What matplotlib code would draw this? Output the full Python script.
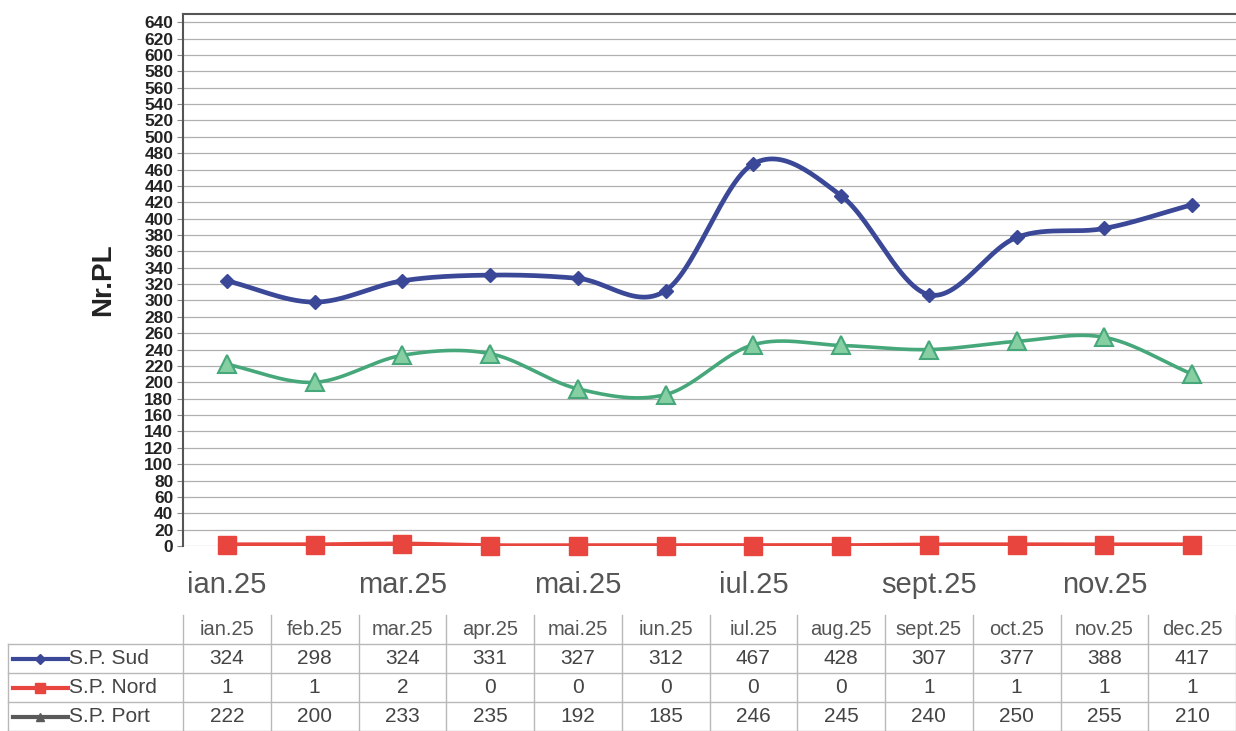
import numpy as np
import matplotlib
matplotlib.use("Agg")
import matplotlib.pyplot as plt

plt.rcParams['font.family'] = ['Liberation Sans', 'DejaVu Sans']

months = ["ian.25", "feb.25", "mar.25", "apr.25", "mai.25", "iun.25",
          "iul.25", "aug.25", "sept.25", "oct.25", "nov.25", "dec.25"]
sud = [324, 298, 324, 331, 327, 312, 467, 428, 307, 377, 388, 417]
nord = [1, 1, 2, 0, 0, 0, 0, 0, 1, 1, 1, 1]
port = [222, 200, 233, 235, 192, 185, 246, 245, 240, 250, 255, 210]
series_names = ["S.P. Sud", "S.P. Nord", "S.P. Port"]
y_label = "Nr.PL"

W, H = 1236, 731
fig = plt.figure(figsize=(W / 100, H / 100), dpi=100)

left, right, top, bottom = 183, 1236, 14, 546
ax = fig.add_axes([left / W, 1 - bottom / H, (right - left) / W, (bottom - top) / H])


def smooth(x, y, n=30):
    x = np.asarray(x, float)
    y = np.asarray(y, float)
    px = np.concatenate([[2 * x[0] - x[1]], x, [2 * x[-1] - x[-2]]])
    py = np.concatenate([[2 * y[0] - y[1]], y, [2 * y[-1] - y[-2]]])
    xs, ys = [], []
    t = np.linspace(0, 1, n)
    for i in range(1, len(px) - 2):
        p0, p1, p2, p3 = py[i - 1], py[i], py[i + 1], py[i + 2]
        q0, q1, q2, q3 = px[i - 1], px[i], px[i + 1], px[i + 2]
        fy = 0.5 * ((2 * p1) + (-p0 + p2) * t + (2 * p0 - 5 * p1 + 4 * p2 - p3) * t ** 2
                    + (-p0 + 3 * p1 - 3 * p2 + p3) * t ** 3)
        fx = 0.5 * ((2 * q1) + (-q0 + q2) * t + (2 * q0 - 5 * q1 + 4 * q2 - q3) * t ** 2
                    + (-q0 + 3 * q1 - 3 * q2 + q3) * t ** 3)
        xs.append(fx)
        ys.append(fy)
    return np.concatenate(xs), np.concatenate(ys)


x = np.arange(len(months))
blue = "#3a4897"
red = "#e8453f"
green = "#46a87a"
green_fill = "#86cfa3"
gray = "#5a5a5a"

for k in range(0, 660, 20):
    ax.axhline(k, color="#b0b0b0", lw=0.9, zorder=0)

sx, sy = smooth(x, sud)
ax.plot(sx, sy, color=blue, lw=3.4, zorder=3, solid_capstyle="round")
ax.plot(x, sud, ls="none", marker="D", ms=7, color=blue, zorder=4)

sx, sy = smooth(x, port)
ax.plot(sx, sy, color=green, lw=2.6, zorder=3)
ax.plot(x, port, ls="none", marker="^", ms=13, mfc=green_fill, mec=green, mew=1.5, zorder=4)

sx, sy = smooth(x, nord)
ax.plot(sx, sy, color=red, lw=4, zorder=3)
ax.plot(x, nord, ls="none", marker="s", ms=13, color=red, zorder=4, clip_on=False)

ax.set_xlim(-0.5, 11.5)
ax.set_ylim(0, 650)
ax.set_yticks(range(0, 641, 20))
ax.set_yticklabels([str(v) for v in range(0, 641, 20)], fontsize=12.5, fontweight="bold", color="#222222")
ax.set_xticks(x[::2])
ax.set_xticklabels(months[::2], fontsize=21, color="#555555")
ax.tick_params(axis="x", length=0, pad=18)
ax.tick_params(axis="y", length=4, width=0.8, color="#888888", pad=3)
for s in ["left", "top"]:
    ax.spines[s].set_color("#555555")
    ax.spines[s].set_linewidth(1.5)
ax.spines["right"].set_visible(False)
ax.spines["bottom"].set_visible(False)
ax.set_ylabel(y_label, fontsize=20, fontweight="bold", color="#222222", labelpad=20)

# data table
tab_top = 615
tax = fig.add_axes([left / W, 0, (right - left) / W, (H - tab_top) / H])
tax.set_xlim(-0.5, 11.5)
tax.set_ylim(0, 4)
tax.axis("off")
lc = "#b8b8b8"
xl = -0.5 - (left - 8) / ((right - left) / 12)
for yv in [0, 1, 2, 3]:
    tax.plot([xl, 11.5], [yv, yv], color=lc, lw=1, clip_on=False)
for i in range(13):
    tax.plot([i - 0.5, i - 0.5], [0, 4], color=lc, lw=1, clip_on=False)
tax.plot([xl, xl], [0, 3], color=lc, lw=1, clip_on=False)

for i, m in enumerate(months):
    tax.text(i, 3.5, m, ha="center", va="center", fontsize=14.5, color="#555555")

rows = [sud, nord, port]
styles = [dict(color=blue, marker="D", ms=5),
          dict(color=red, marker="s", ms=7),
          dict(color=gray, marker="^", ms=6)]
for r, (vals, name, st) in enumerate(zip(rows, series_names, styles)):
    yc = 2.5 - r
    for i, v in enumerate(vals):
        tax.text(i, yc, str(v), ha="center", va="center", fontsize=15, color="#444444")
    lx0 = xl + 0.06
    lx1 = lx0 + 0.62
    tax.plot([lx0, lx1], [yc, yc], color=st["color"], lw=3, clip_on=False)
    tax.plot([(lx0 + lx1) / 2], [yc], ls="none", marker=st["marker"], ms=st["ms"],
             color=st["color"], clip_on=False)
    tax.text(lx1 + 0.01, yc, name, ha="left", va="center", fontsize=15, color="#444444")

fig.savefig("out.png", dpi=100)
